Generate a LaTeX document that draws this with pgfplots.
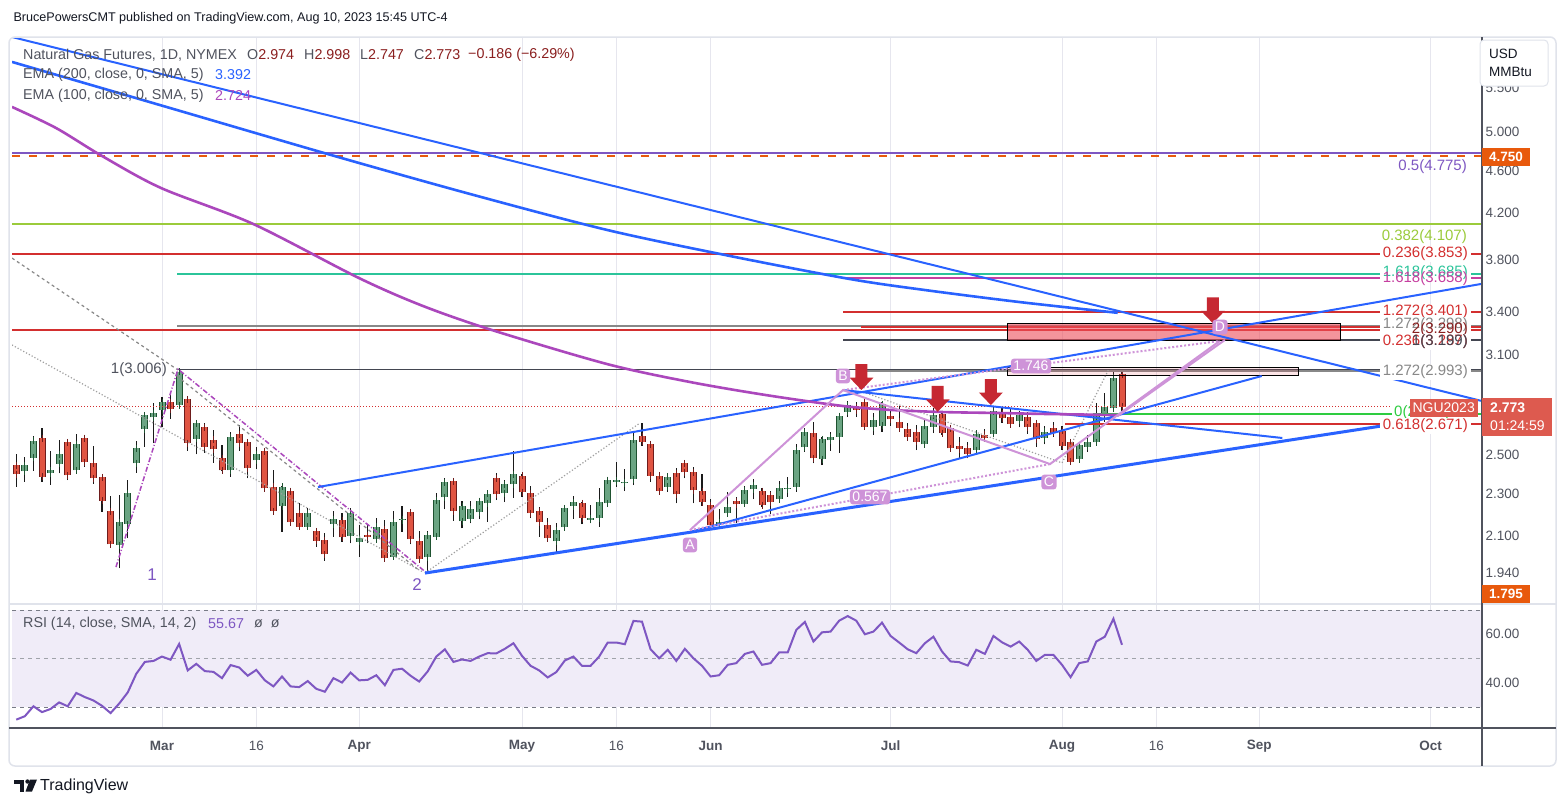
\documentclass[border=0pt]{standalone}
\usepackage{pgfplots}
\usepackage{pgfplotstable}
\pgfplotsset{compat=1.18}
\usepackage{fontspec}
\setmainfont{Liberation Sans}
\definecolor{upfill}{HTML}{6BA583}
\definecolor{upedge}{HTML}{1E5230}
\definecolor{dnfill}{HTML}{E05442}
\definecolor{dnedge}{HTML}{6E1C1C}
\definecolor{wickc}{HTML}{1A1A1A}
\definecolor{cblue}{HTML}{2962FF}
\definecolor{cema}{HTML}{AB47BC}
\definecolor{cpurple}{HTML}{7E57C2}
\definecolor{corange}{HTML}{E8590C}
\definecolor{cyg}{HTML}{9BCB3B}
\definecolor{cred}{HTML}{D32F2F}
\definecolor{cteal}{HTML}{2BC49A}
\definecolor{cmag}{HTML}{C63FA0}
\definecolor{cgray}{HTML}{888888}
\definecolor{cblack}{HTML}{434651}
\definecolor{cgreen}{HTML}{2ECC40}
\definecolor{cpink}{HTML}{CE93D8}
\definecolor{carrow}{HTML}{C62832}
\definecolor{cdot}{HTML}{A0A0A0}
\definecolor{cgrid}{HTML}{E6E6EE}
\definecolor{cframe}{HTML}{E0E3EB}
\definecolor{caxis}{HTML}{50535E}
\definecolor{ctext}{HTML}{50535E}
\definecolor{cval}{HTML}{8B1F1F}
\definecolor{cngu}{HTML}{DD5A4F}
\definecolor{cband}{HTML}{F0ECF8}
\definecolor{cdash}{HTML}{787B86}
\definecolor{cbox}{HTML}{EE4D5A}
\definecolor{cdark}{HTML}{131722}
\newcommand{\F}[1]{\fontsize{#1}{#1}\selectfont}

\pgfplotstableread{
i o h l c
-16 2.414 2.491 2.361 2.445
-15 2.485 2.604 2.417 2.577
-13 2.404 2.522 2.345 2.419
-12 2.454 2.582 2.404 2.504
-10 2.419 2.616 2.407 2.558
-5 2.060 2.295 1.960 2.164
-4 2.155 2.369 2.091 2.303
-3 2.456 2.577 2.407 2.536
-2 2.642 2.734 2.545 2.722
-1 2.711 2.793 2.564 2.734
0 2.753 2.833 2.657 2.799
2 2.783 3.006 2.763 2.990
4 2.588 2.689 2.504 2.676
8 2.419 2.628 2.386 2.597
11 2.471 2.542 2.425 2.504
14 2.240 2.340 2.120 2.336
17 2.143 2.233 2.132 2.206
20 2.155 2.216 2.098 2.178
22 2.100 2.233 2.068 2.206
23 2.076 2.151 2.010 2.091
25 2.086 2.186 2.071 2.143
27 2.010 2.217 2.003 2.164
28 2.174 2.241 2.120 2.178
31 2.007 2.123 1.942 2.104
32 2.098 2.303 2.095 2.269
33 2.283 2.378 2.225 2.358
35 2.169 2.265 2.136 2.240
36 2.181 2.265 2.159 2.225
37 2.211 2.280 2.178 2.265
38 2.254 2.308 2.167 2.300
40 2.303 2.369 2.260 2.347
41 2.347 2.522 2.281 2.400
46 2.077 2.159 2.032 2.127
47 2.141 2.246 2.136 2.230
48 2.240 2.290 2.181 2.259
50 2.175 2.246 2.159 2.183
51 2.183 2.327 2.143 2.259
52 2.254 2.373 2.241 2.369
53 2.361 2.464 2.336 2.369
54 2.352 2.426 2.314 2.359
55 2.373 2.628 2.344 2.582
59 2.336 2.404 2.311 2.386
65 2.155 2.225 2.136 2.164
66 2.206 2.308 2.195 2.235
68 2.252 2.339 2.243 2.317
69 2.322 2.374 2.273 2.342
72 2.273 2.364 2.270 2.330
73 2.322 2.383 2.286 2.330
74 2.336 2.560 2.311 2.527
75 2.542 2.648 2.518 2.625
77 2.477 2.597 2.447 2.586
78 2.580 2.625 2.523 2.597
79 2.601 2.734 2.512 2.718
80 2.743 2.809 2.712 2.783
83 2.653 2.734 2.610 2.695
84 2.663 2.803 2.628 2.787
89 2.558 2.699 2.555 2.661
90 2.657 2.763 2.620 2.724
95 2.527 2.638 2.518 2.616
97 2.618 2.773 2.610 2.747
100 2.691 2.747 2.653 2.724
103 2.592 2.663 2.558 2.628
107 2.477 2.567 2.464 2.554
108 2.545 2.610 2.518 2.569
109 2.569 2.793 2.564 2.718
110 2.718 2.854 2.685 2.769
111 2.763 2.995 2.760 2.951
}\upT

\pgfplotstableread{
i o h l c
-17 2.445 2.504 2.336 2.399
-14 2.592 2.648 2.361 2.386
-11 2.569 2.582 2.369 2.393
-9 2.592 2.597 2.438 2.461
-8 2.456 2.549 2.350 2.378
-7 2.383 2.386 2.214 2.267
-6 2.216 2.290 2.054 2.064
1 2.799 2.854 2.701 2.757
3 2.817 2.825 2.523 2.564
5 2.653 2.680 2.512 2.545
6 2.582 2.638 2.459 2.531
7 2.482 2.554 2.415 2.419
9 2.614 2.666 2.523 2.564
10 2.569 2.586 2.378 2.430
12 2.520 2.525 2.322 2.327
13 2.336 2.421 2.203 2.216
15 2.313 2.319 2.155 2.164
16 2.206 2.257 2.131 2.143
18 2.122 2.137 2.054 2.080
19 2.082 2.113 1.993 2.020
21 2.174 2.206 2.076 2.095
24 2.104 2.151 2.068 2.098
26 2.131 2.175 1.989 2.003
29 2.211 2.222 2.064 2.086
30 2.077 2.123 1.989 1.999
34 2.363 2.373 2.172 2.216
39 2.378 2.407 2.269 2.298
42 2.390 2.400 2.286 2.308
43 2.303 2.339 2.183 2.206
44 2.216 2.235 2.098 2.164
45 2.150 2.183 2.079 2.091
49 2.254 2.258 2.155 2.183
56 2.604 2.676 2.549 2.573
57 2.558 2.562 2.361 2.390
58 2.390 2.398 2.310 2.314
60 2.404 2.430 2.254 2.298
61 2.456 2.473 2.378 2.409
62 2.409 2.438 2.254 2.317
63 2.313 2.398 2.243 2.259
64 2.245 2.273 2.136 2.150
67 2.264 2.283 2.162 2.249
70 2.313 2.327 2.238 2.245
71 2.293 2.314 2.201 2.259
76 2.620 2.685 2.456 2.482
81 2.767 2.803 2.712 2.753
82 2.799 2.809 2.638 2.657
85 2.718 2.749 2.663 2.699
86 2.685 2.779 2.628 2.648
87 2.642 2.680 2.582 2.597
88 2.625 2.666 2.527 2.573
91 2.730 2.749 2.610 2.620
92 2.648 2.657 2.527 2.536
93 2.549 2.601 2.482 2.531
94 2.536 2.569 2.482 2.504
96 2.610 2.644 2.578 2.592
98 2.734 2.767 2.680 2.705
99 2.711 2.759 2.657 2.672
101 2.711 2.743 2.616 2.653
102 2.676 2.685 2.545 2.586
104 2.648 2.682 2.601 2.623
105 2.634 2.663 2.527 2.551
106 2.569 2.575 2.447 2.464
112 2.974 2.998 2.747 2.773
}\dnT

\pgfplotstableread{
i r
-17 24.8
-16 26.2
-15 30.3
-14 27.9
-13 29.2
-12 31.9
-11 30.3
-10 35.8
-9 34.1
-8 32.7
-7 30.5
-6 27.5
-5 31.4
-4 36.0
-3 43.7
-2 48.6
-1 49.0
0 50.8
1 49.5
2 56.0
3 45.1
4 47.8
5 44.8
6 44.5
7 41.9
8 47.3
9 46.3
10 42.9
11 45.3
12 41.0
13 38.5
14 42.6
15 38.5
16 38.2
17 40.7
18 37.5
19 36.3
20 41.9
21 40.1
22 44.2
23 41.0
24 41.2
25 43.1
26 39.0
27 45.3
28 45.8
29 42.9
30 40.5
31 44.7
32 50.8
33 53.8
34 48.6
35 49.6
36 49.0
37 50.8
38 52.2
39 52.1
40 54.0
41 56.3
42 51.1
43 47.0
44 45.1
45 42.2
46 44.4
47 49.2
48 50.8
49 47.0
50 47.0
51 50.8
52 56.6
53 56.6
54 55.9
55 65.5
56 65.2
57 53.8
58 50.1
59 53.6
60 49.0
61 54.0
62 50.1
63 47.0
64 42.6
65 43.1
66 47.4
67 48.1
68 51.9
69 52.9
70 47.4
71 48.1
72 52.5
73 52.5
74 61.8
75 65.1
76 57.0
77 60.8
78 61.1
79 65.6
80 67.5
81 65.6
82 60.0
83 61.1
84 64.8
85 59.3
86 56.6
87 53.8
88 52.2
89 56.3
90 59.0
91 52.9
92 48.8
93 48.5
94 47.1
95 53.6
96 51.9
97 59.3
98 56.7
99 54.9
100 57.0
101 53.6
102 49.0
103 51.5
104 51.5
105 47.4
106 42.3
107 48.1
108 48.8
109 57.0
110 59.0
111 66.4
112 55.67
}\rsiT

\newcommand{\darrow}[2]{\fill[carrow] (axis cs:#1,#2) -- ++(-12pt,12.5pt) -- ++(6pt,0pt) -- ++(0pt,13.5pt) -- ++(12pt,0pt) -- ++(0pt,-13.5pt) -- ++(6pt,0pt) -- cycle;}

\begin{document}
\begin{tikzpicture}[x=1pt,y=1pt]
\path[use as bounding box, fill=white] (0,0) rectangle (1564,-807);

\begin{axis}[at={(12pt,-603pt)}, anchor=south west, scale only axis,
  width=1470pt, height=565pt,
  xmin=-17.5, xmax=154, ymode=log, ymin=1.820, ymax=6.117,
  axis line style={draw=none}, major tick length=0pt,
  xtick={0,11,23,42,53,64,85,105,116,128,148}, xticklabels={},
  xmajorgrids, grid style={draw=cgrid, line width=0.8pt},
  ytick={1.94,2.1,2.3,2.5,2.7,3.1,3.4,3.8,4.2,4.6,5,5.5},
  yticklabels={1.940,2.100,2.300,2.500,2.700,3.100,3.400,3.800,4.200,4.600,5.000,5.500},
  yticklabel pos=right,
  yticklabel style={anchor=west, font=\F{13.5}, text=ctext},
]
% candles: wicks
\addplot[draw=none, forget plot, error bars/.cd, y dir=plus, y explicit, error mark=none,
  error bar style={draw=wickc, line width=1.1pt}]
  table[x=i, y=l, y error plus expr=\thisrow{h}-\thisrow{l}] \upT;
\addplot[draw=none, forget plot, error bars/.cd, y dir=plus, y explicit, error mark=none,
  error bar style={draw=wickc, line width=1.1pt}]
  table[x=i, y=l, y error plus expr=\thisrow{h}-\thisrow{l}] \dnT;
% bodies outline
\addplot[draw=none, forget plot, error bars/.cd, y dir=plus, y explicit, error mark=none,
  error bar style={draw=upedge, line width=7pt}]
  table[x=i, y=o, y error plus expr=\thisrow{c}-\thisrow{o}] \upT;
\addplot[draw=none, forget plot, error bars/.cd, y dir=plus, y explicit, error mark=none,
  error bar style={draw=dnedge, line width=7pt}]
  table[x=i, y=c, y error plus expr=\thisrow{o}-\thisrow{c}] \dnT;
% bodies fill
\addplot[draw=none, forget plot, error bars/.cd, y dir=both, y explicit, error mark=-,
  error bar style={draw=upfill, line width=5pt},
  error mark options={draw=upedge, line width=1pt, mark size=3.5pt}]
  table[x=i, y=o, y error plus expr=\thisrow{c}-\thisrow{o}, y error minus expr=0] \upT;
\addplot[draw=none, forget plot, error bars/.cd, y dir=both, y explicit, error mark=-,
  error bar style={draw=dnfill, line width=5pt},
  error mark options={draw=dnedge, line width=1pt, mark size=3.5pt}]
  table[x=i, y=c, y error plus expr=\thisrow{o}-\thisrow{c}, y error minus expr=0] \dnT;

% horizontal levels
\addplot[cpurple, line width=2pt] coordinates {(-17.5,4.775) (154,4.775)};
\addplot[corange, line width=2.5pt, dash pattern=on 8pt off 9pt] coordinates {(-17.5,4.750) (154,4.750)};
\addplot[cyg, line width=2pt] coordinates {(-17.5,4.107) (154,4.107)};
\addplot[cred, line width=2pt] coordinates {(-17.5,3.853) (154,3.853)};
\addplot[cteal, line width=2pt] coordinates {(1.8,3.685) (154,3.685)};
\addplot[cmag, line width=2pt] coordinates {(79.7,3.658) (154,3.658)};
\addplot[cred, line width=2pt] coordinates {(79.5,3.401) (154,3.401)};
\addplot[cgray, line width=2pt] coordinates {(1.8,3.298) (154,3.298)};
\addplot[cred, line width=2pt] coordinates {(-17.5,3.272) (154,3.272)};
\addplot[cred, line width=2pt] coordinates {(81.6,3.293) (154,3.293)};
\addplot[cblack, line width=2pt] coordinates {(79.5,3.199) (154,3.199)};
\addplot[cblack, line width=1pt] coordinates {(1.8,3.006) (154,3.006)};
\addplot[cgray, line width=2.5pt] coordinates {(81.6,2.993) (154,2.993)};
\addplot[cgreen, line width=2.5pt] coordinates {(108.6,2.730) (154,2.730)};
\addplot[cred, line width=2pt] coordinates {(105.4,2.671) (154,2.671)};
\addplot[cred, line width=1pt, dotted] coordinates {(-17.5,2.773) (145.8,2.773)};

% boxes
\addplot[fill=cbox, fill opacity=0.6, draw=black, line width=1pt] coordinates {(98.62,3.317) (137.5,3.317) (137.5,3.195) (98.62,3.195)} -- cycle;
\addplot[fill=cbox, fill opacity=0.15, draw=black, line width=1pt] coordinates {(98.62,3.018) (132.6,3.018) (132.6,2.964) (98.62,2.964)} -- cycle;

% gray dotted / dashed wave lines
\addplot[cdot, line width=1.2pt, dotted] coordinates {(-17.5,3.166) (30.45,1.945)};
\addplot[cdot, line width=1.2pt, dotted] coordinates {(30.68,1.941) (55.77,2.678)};
\addplot[cdot, line width=1.2pt, dotted] coordinates {(81.8,2.862) (105.0,2.458) (110.4,3.000)};
\addplot[cgray, line width=1.2pt, dashed] coordinates {(-17.5,3.815) (1.87,3.000)};
\addplot[cgray, line width=1.2pt, dashed] coordinates {(1.17,2.987) (30.1,1.949)};
\addplot[cema, line width=1.5pt, dash pattern=on 5pt off 2pt on 1pt off 2pt] coordinates {(-5.37,1.966) (1.87,3.006) (30.9,1.941)};

% trend lines
\addplot[cblue, line width=2pt] coordinates {(-17.5,6.130) (154,2.807)};
\addplot[cblue, line width=2pt] coordinates {(18.2,2.334) (154,3.61)};
\addplot[cblue, line width=3pt] coordinates {(30.68,1.941) (147.6,2.701)};
\addplot[cblue, line width=2pt] coordinates {(79.45,2.874) (130.7,2.593)};
\addplot[cblue, line width=2pt] coordinates {(61.6,2.119) (128.3,2.962)};

% EMA lines
\addplot[cblue, line width=2.6pt, smooth] coordinates {(-17.5,5.811) (0.93,5.264) (19.72,4.759) (35.94,4.377) (51.92,4.052) (66.27,3.832) (80.27,3.647) (89.02,3.562) (100.1,3.471) (111.5,3.392)};
\addplot[cema, line width=2.6pt, smooth] coordinates {(-17.5,5.276) (-12.37,5.043) (-7.0,4.749) (-0.12,4.434) (10.62,4.105) (22.98,3.655) (30.45,3.442) (38.5,3.269) (51.92,3.039) (61.6,2.924) (70.5,2.843) (79.5,2.777) (85.4,2.753) (91.4,2.741) (97.3,2.736) (103.3,2.730) (111.5,2.724)};

% ABCD pattern
\addplot[cpink, line width=2pt] coordinates {(61.6,2.128) (79.45,2.874) (103.6,2.452) (123.4,3.193)};
\addplot[cpink, line width=2pt] coordinates {(111.5,2.718) (124.0,3.200)};
\addplot[cpink, line width=2pt, dotted] coordinates {(61.6,2.128) (103.6,2.452)};
\addplot[cpink, line width=2pt, dotted] coordinates {(79.45,2.874) (123.4,3.193)};

% arrows
\darrow{81.6}{2.874}
\darrow{90.5}{2.743}
\darrow{96.7}{2.783}
\darrow{122.6}{3.317}
\end{axis}

\begin{axis}[at={(12pt,-728pt)}, anchor=south west, scale only axis,
  width=1470pt, height=125pt,
  xmin=-17.5, xmax=154, ymin=21.34, ymax=72.89,
  axis line style={draw=none}, major tick length=0pt,
  xtick={0,11,23,42,53,64,85,105,116,128,148},
  xticklabels={\textbf{Mar},16,\textbf{Apr},\textbf{May},16,\textbf{Jun},\textbf{Jul},\textbf{Aug},16,\textbf{Sep},\textbf{Oct}},
  xticklabel style={anchor=center, yshift=-18pt, font=\F{13.5}, text=ctext},
  xmajorgrids, grid style={draw=cgrid, line width=0.8pt},
  ytick={40,60}, yticklabels={40.00,60.00},
  yticklabel pos=right,
  yticklabel style={anchor=west, font=\F{13.5}, text=ctext},
]
\addplot[fill=cband, draw=none] coordinates {(-17.5,30) (154,30) (154,70) (-17.5,70)} -- cycle;
\addplot[cdash, line width=1pt, dash pattern=on 4pt off 4pt] coordinates {(-17.5,70) (154,70)};
\addplot[cdash!70, line width=1pt, dash pattern=on 4pt off 4pt] coordinates {(-17.5,50) (154,50)};
\addplot[cdash, line width=1pt, dash pattern=on 4pt off 4pt] coordinates {(-17.5,30) (154,30)};
\addplot[cpurple, line width=2pt] table[x=i, y=r] \rsiT;
\end{axis}

% frame
\draw[cframe, line width=2pt] (9,-603.5) -- (1556,-603.5);
\draw[cframe, line width=1.5pt, rounded corners=6pt] (9,-37) rectangle (1556,-766);
\draw[caxis, line width=1.5pt] (1482,-37) -- (1482,-766);
\draw[caxis, line width=1.5pt] (9,-728) -- (1556,-728);

% header texts
\node[anchor=west, text=cdark, font=\F{12.6}] at (10,-18) {BrucePowersCMT published on TradingView.com, Aug 10, 2023 15:45 UTC-4};
\node[anchor=west, text=ctext, font=\F{14.3}, inner sep=0pt] at (23,-55) {Natural Gas Futures, 1D, NYMEX};
\node[anchor=west, font=\F{14.3}, inner sep=0pt] at (247,-55) {\textcolor{ctext}{O}\textcolor{cval}{2.974}};
\node[anchor=west, font=\F{14.3}, inner sep=0pt] at (304,-55) {\textcolor{ctext}{H}\textcolor{cval}{2.998}};
\node[anchor=west, font=\F{14.3}, inner sep=0pt] at (360,-55) {\textcolor{ctext}{L}\textcolor{cval}{2.747}};
\node[anchor=west, font=\F{14.3}, inner sep=0pt] at (414,-55) {\textcolor{ctext}{C}\textcolor{cval}{2.773}};
\node[anchor=west, font=\F{14.3}, inner sep=0pt, text=cval] at (468,-55) {−0.186 (−6.29\%)};
\node[anchor=west, text=ctext, font=\F{14.3}, inner sep=0pt] at (23,-75) {EMA (200, close, 0, SMA, 5)};
\node[anchor=west, text=cblue, font=\F{14.3}, inner sep=0pt] at (215,-75) {3.392};
\node[anchor=west, text=ctext, font=\F{14.3}, inner sep=0pt] at (23,-96) {EMA (100, close, 0, SMA, 5)};
\node[anchor=west, text=cema, font=\F{14.3}, inner sep=0pt] at (215,-96) {2.724};
\node[anchor=west, text=ctext, font=\F{14.3}, inner sep=0pt] at (23,-624) {RSI (14, close, SMA, 14, 2)};
\node[anchor=west, text=cpurple, font=\F{14.3}, inner sep=0pt] at (208,-624) {55.67};
\node[anchor=west, text=ctext, font=\F{14.3}, inner sep=0pt] at (254,-624) {ø\hspace{8pt}ø};

% wave / pattern labels
\node[anchor=east, text=ctext, font=\F{15}, inner sep=1pt] at (168,-370) {1(3.006)};
\node[text=cpurple, font=\F{17}] at (152,-575) {1};
\node[text=cpurple, font=\F{17}] at (417,-585) {2};
\foreach \t/\x/\y in {A/690/545, B/843/376, C/1049/482, D/1220/327, 0.567/870/497, 1.746/1031/366}
  \node[fill=cpink, text=white, font=\F{14}, rounded corners=3pt, inner sep=2.5pt] at (\x,-\y) {\t};

% fib labels
\node[anchor=east, text=cpurple, font=\F{15}, inner sep=1pt] at (1468,-167) {0.5(4.775)};
\node[anchor=east, text=cyg, font=\F{15}, inner sep=1pt] at (1468,-237) {0.382(4.107)};
\node[anchor=east, text=cred, font=\F{15}, fill=white, inner xsep=3pt, inner ysep=1pt] at (1471,-254) {0.236(3.853)};
\node[anchor=east, text=cteal, font=\F{15}, fill=white, inner xsep=3pt, inner ysep=1pt] at (1471,-273) {1.618(3.685)};
\node[anchor=east, text=cmag, font=\F{15}, inner xsep=3pt, inner ysep=1pt] at (1471,-279) {1.618(3.658)};
\node[anchor=east, text=cred, font=\F{15}, fill=white, inner xsep=3pt, inner ysep=1pt] at (1471,-312) {1.272(3.401)};
\node[anchor=east, text=cgray, font=\F{15}, fill=white, inner xsep=3pt, inner ysep=1pt] at (1471,-325) {1.272(3.298)};
\node[anchor=east, text=cval, font=\F{15}, inner xsep=3pt, inner ysep=1pt] at (1471,-330) {2(3.290)};
\node[anchor=east, text=cred, font=\F{15}, fill=white, inner xsep=3pt, inner ysep=1pt] at (1471,-342) {0.236(3.287)};
\node[anchor=east, text=cblack, font=\F{15}, inner xsep=3pt, inner ysep=1pt] at (1471,-342) {1(3.199)};
\node[anchor=east, text=cgray, font=\F{15}, fill=white, inner xsep=3pt, inner ysep=1pt] at (1471,-372) {1.272(2.993)};
\node[anchor=west, text=cgreen, font=\F{15}, fill=white, inner xsep=2pt, inner ysep=1pt] at (1392,-413) {0(2.730)};
\node[anchor=east, text=cred, font=\F{15}, fill=white, inner xsep=3pt, inner ysep=1pt] at (1471,-426) {0.618(2.671)};

% price scale labels
\node[anchor=west, fill=corange, text=white, font=\F{13.5}\bfseries, minimum height=18pt, inner xsep=7pt, inner ysep=0pt] at (1482,-157) {4.750};
\node[anchor=west, fill=corange, text=white, font=\F{13.5}\bfseries, minimum height=18pt, inner xsep=7pt, inner ysep=0pt] at (1482,-594) {1.795};
\node[anchor=east, fill=cngu, text=white, font=\F{14}, minimum height=18pt, inner xsep=3pt, inner ysep=0pt] at (1478,-408) {NGU2023};
\fill[cngu] (1482,-398) rectangle (1552,-436);
\node[anchor=west, text=white, font=\F{14}\bfseries, inner sep=0pt] at (1490,-408) {2.773};
\node[anchor=west, text=white, font=\F{14}, inner sep=0pt] at (1490,-426) {01:24:59};
\draw[cframe, fill=white, line width=1pt, rounded corners=4pt] (1480,-40) rectangle (1548,-86);
\node[anchor=west, text=cdark, font=\F{13.5}, inner sep=0pt] at (1489,-54) {USD};
\node[anchor=west, text=cdark, font=\F{13.5}, inner sep=0pt] at (1489,-72) {MMBtu};

% footer logo
\fill[cdark] (13.5,-779.5) rectangle (24,-783.5);
\fill[cdark] (19.5,-779.5) rectangle (24,-791.5);
\fill[cdark] (27.5,-781.5) circle (2.2);
\fill[cdark] (30,-779.5) -- (37,-779.5) -- (32,-791.5) -- (25.5,-791.5) -- cycle;
\node[anchor=west, text=cdark, font=\F{16}, inner sep=0pt] at (40,-786) {TradingView};
\end{tikzpicture}
\end{document}
